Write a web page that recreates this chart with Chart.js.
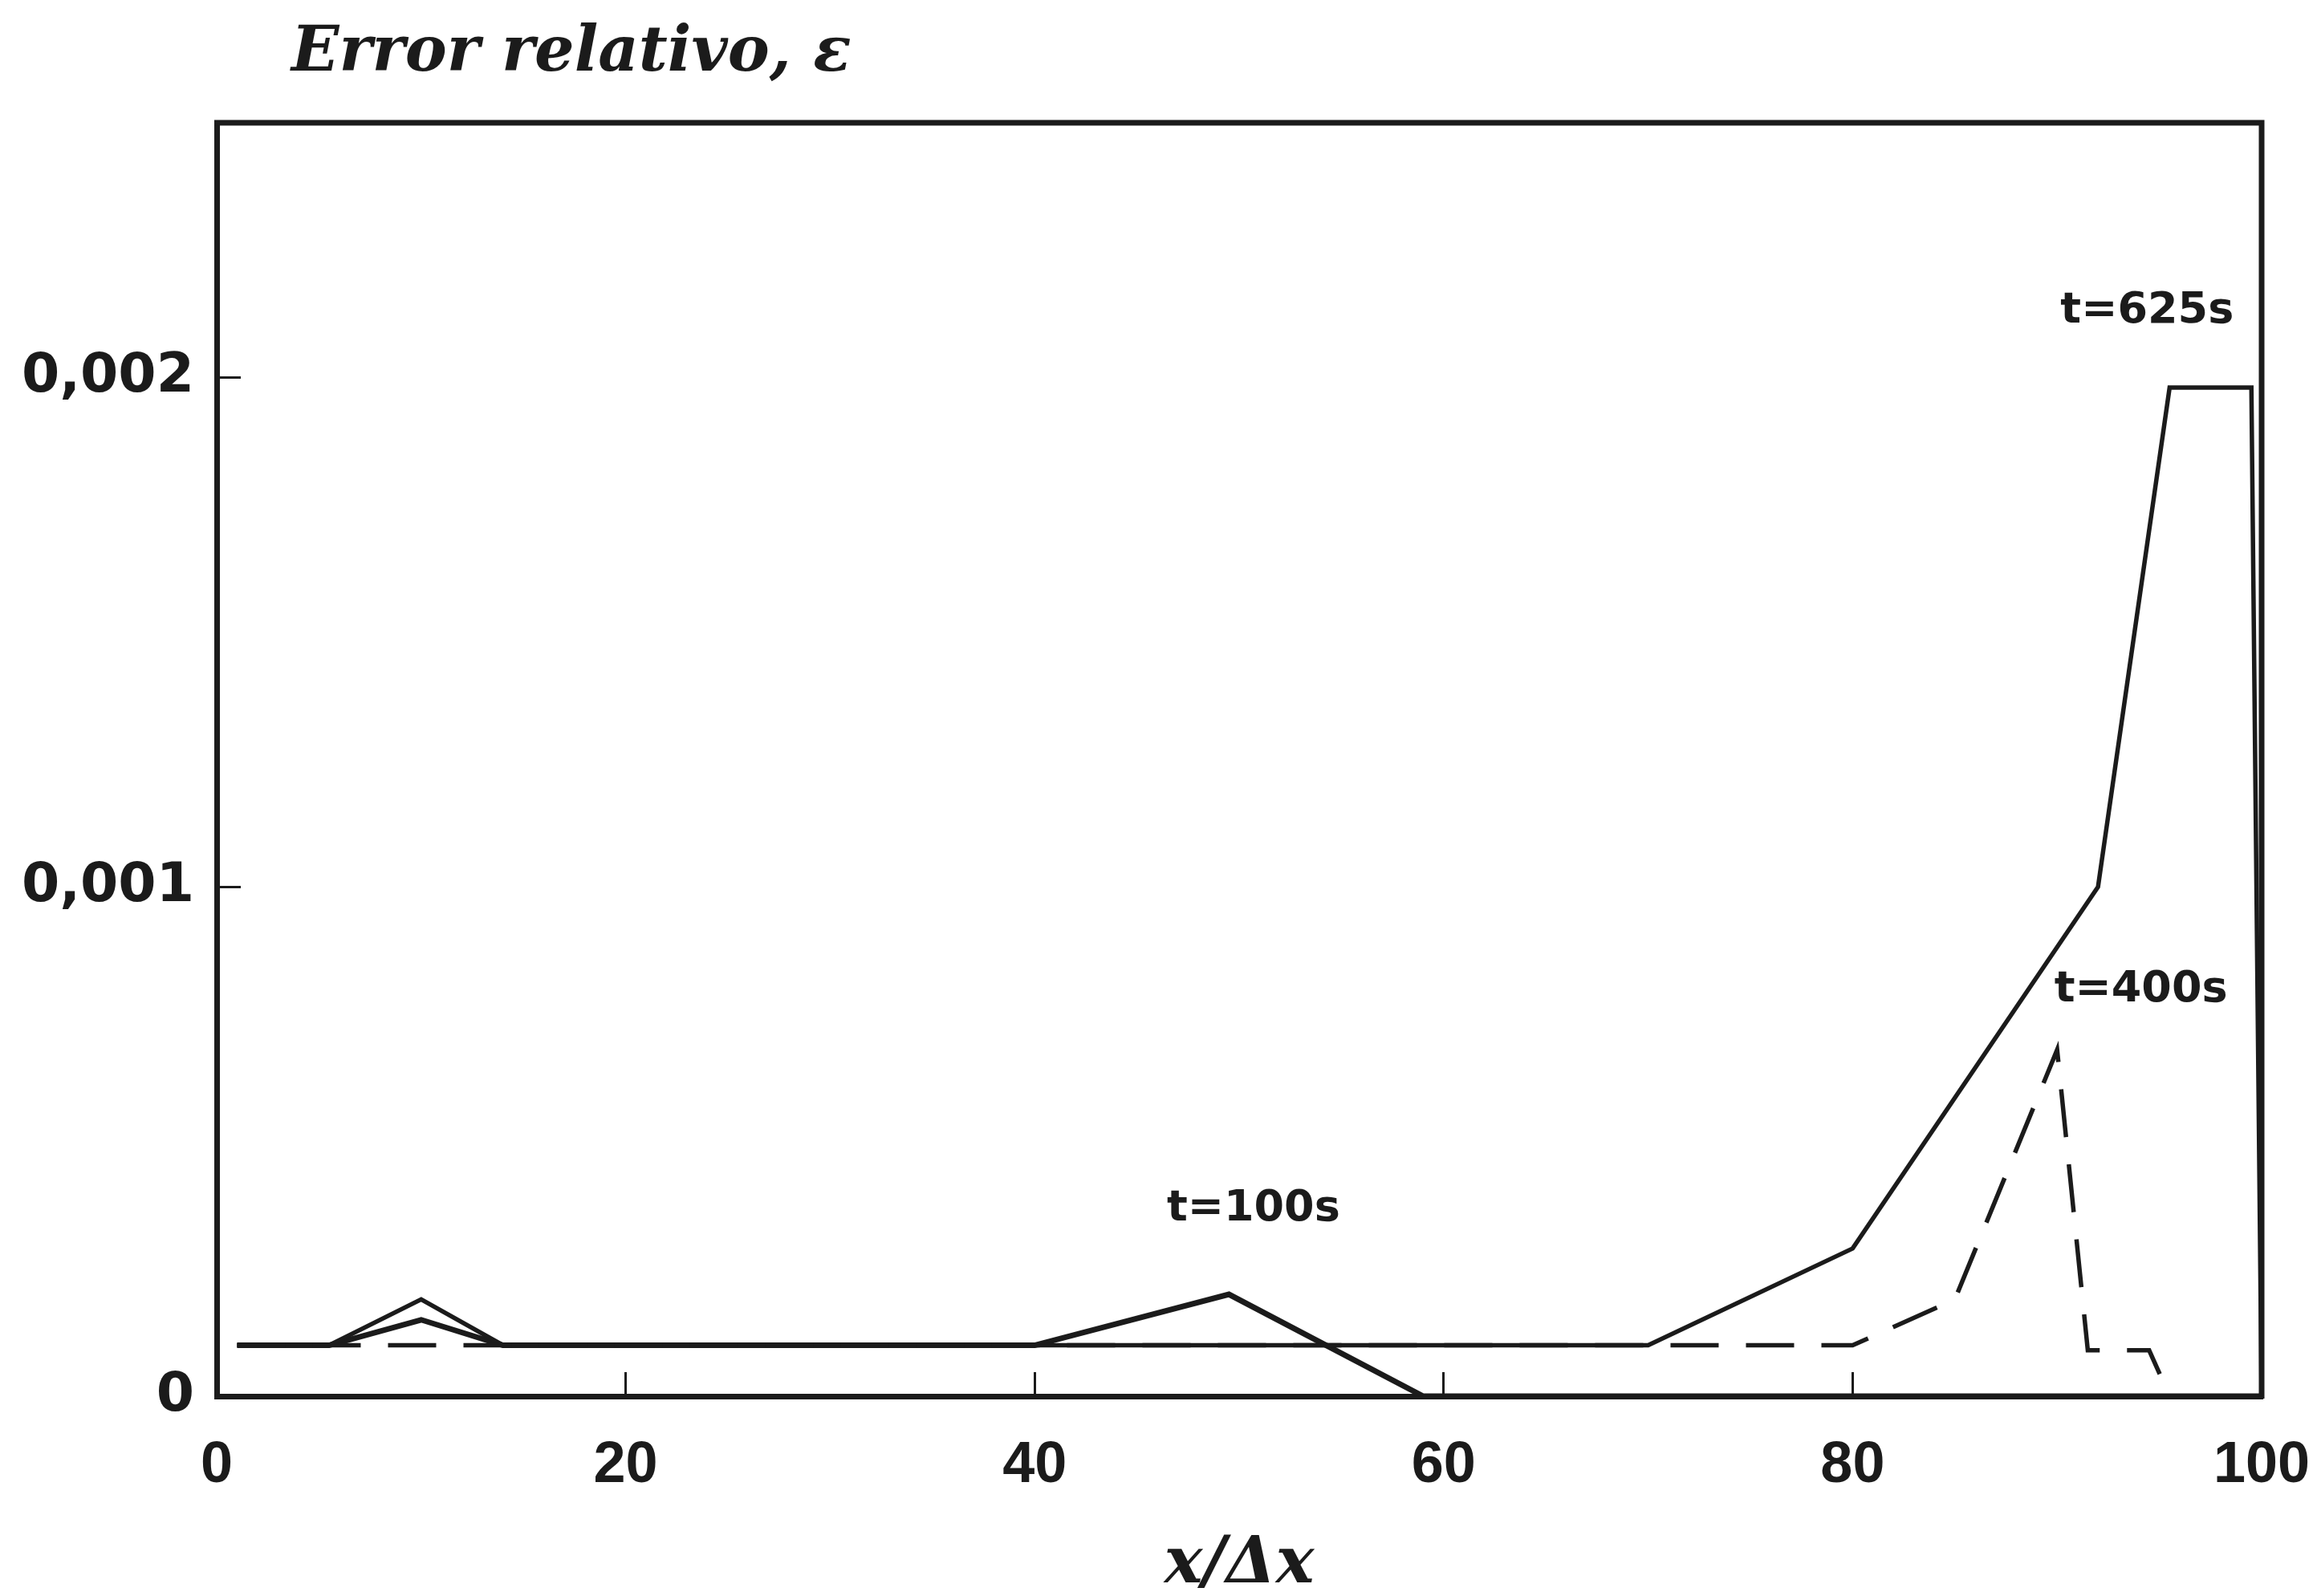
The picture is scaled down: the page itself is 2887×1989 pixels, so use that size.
<!DOCTYPE html>
<html>
<head>
<meta charset="utf-8">
<script src="https://cdn.jsdelivr.net/npm/chart.js@4.4.1/dist/chart.umd.min.js"></script>
<style>
  html, body { margin: 0; padding: 0; background: #fff; }
  #wrap { width: 2887px; height: 1989px; }
</style>
</head>
<body>
<div id="wrap"><canvas id="errChart"></canvas></div>
<script>
// axis ticks
const xTickValues = [0, 20, 40, 60, 80, 100];
const xTickLabels = ['0', '20', '40', '60', '80', '100'];
const yTickValues = [0, 0.001, 0.002];
const yTickLabels = ['0', '0,001', '0,002'];

// t = 100 s
const x100 = [1, 5.5, 10, 14, 40, 49.5, 59, 100];
const e100 = [0.0001, 0.0001, 0.00015, 0.0001, 0.0001, 0.0002, 0, 0];
// t = 400 s (dashed)
const x400 = [1, 80, 85, 90, 91.5, 94.5, 95.5];
const e400 = [0.0001, 0.0001, 0.00019, 0.00068, 0.00009, 0.00009, 0];
// t = 625 s
const x625 = [1, 5.5, 10, 14, 70, 80, 92, 95.5, 99.5, 100];
const e625 = [0.0001, 0.0001, 0.00019, 0.0001, 0.0001, 0.00029, 0.001, 0.00198, 0.00198, 0];

// curve labels, anchored in data units
const curveNames = ['t=100s', 't=400s', 't=625s'];
const curveLabelX = [50.7, 94.1, 94.4];
const curveLabelY = [0.000367, 0.000797, 0.00213];

const yTitle = 'Error relativo, ε';
const xTitle = 'x/Δx';

const ink = '#1b1b1b';
const pts = (xs, ys) => xs.map((x, i) => ({ x: x, y: ys[i] }));

// top and right sides of the frame
const framePlugin = {
    id: 'frame',
    afterDraw(chart) {
        const { ctx, chartArea: a } = chart;
        ctx.save();
        ctx.strokeStyle = ink;
        ctx.lineWidth = 7;
        ctx.beginPath();
        ctx.moveTo(a.left - 3, a.top);
        ctx.lineTo(a.right, a.top);
        ctx.lineTo(a.right, a.bottom + 3);
        ctx.stroke();
        ctx.restore();
    }
};

// y title top-left and the t= labels
const textPlugin = {
    id: 'texts',
    afterDraw(chart) {
        const { ctx, chartArea: a, scales } = chart;
        ctx.save();
        ctx.fillStyle = ink;
        ctx.font = 'italic bold 78px "DejaVu Serif"';
        ctx.textAlign = 'left';
        ctx.textBaseline = 'alphabetic';
        ctx.fillText(yTitle, a.left + 93, 88);
        ctx.font = 'bold 54px "DejaVu Sans"';
        ctx.textAlign = 'center';
        ctx.textBaseline = 'middle';
        curveNames.forEach((t, i) => {
            ctx.fillText(t, scales.x.getPixelForValue(curveLabelX[i]), scales.y.getPixelForValue(curveLabelY[i]));
        });
        ctx.restore();
    }
};

new Chart(document.getElementById('errChart'), {
    type: 'line',
    data: {
        datasets: [{
            label: 't=400s',
            data: pts(x400, e400),
            borderColor: ink,
            borderWidth: 5.5,
            borderDash: [60, 34]
        }, {
            label: 't=625s',
            data: pts(x625, e625),
            borderColor: ink,
            borderWidth: 5.5
        }, {
            label: 't=100s',
            data: pts(x100, e100),
            borderColor: ink,
            borderWidth: 7
        }]
    },
    options: {
        responsive: true,
        maintainAspectRatio: false,
        animation: false,
        layout: { padding: { top: 153, right: 69, left: 0, bottom: 0 } },
        elements: {
            point: { radius: 0 },
            line: { tension: 0, fill: false, borderJoinStyle: 'miter' }
        },
        plugins: {
            legend: { display: false },
            tooltip: { enabled: false }
        },
        scales: {
            x: {
                type: 'linear',
                min: 0,
                max: 100,
                afterBuildTicks: s => { s.ticks = xTickValues.map(v => ({ value: v })); },
                afterFit: s => { s.height = 249; s.paddingLeft = 0; s.paddingRight = 0; },
                grid: {
                    display: true,
                    drawOnChartArea: false,
                    drawTicks: true,
                    tickLength: -30,
                    tickWidth: 3,
                    tickColor: ink
                },
                border: { display: true, color: ink, width: 7 },
                ticks: {
                    autoSkip: false,
                    maxRotation: 0,
                    padding: 81,
                    color: ink,
                    font: { family: 'Liberation Sans', weight: 'bold', size: 72, lineHeight: 1 },
                    callback: (v, i) => xTickLabels[i]
                },
                title: {
                    display: true,
                    text: xTitle,
                    color: ink,
                    padding: { top: 0, bottom: 0 },
                    font: { family: 'DejaVu Serif', style: 'italic', weight: 'bold', size: 80, lineHeight: 0.95 }
                }
            },
            y: {
                type: 'linear',
                min: 0,
                max: 0.0025,
                afterBuildTicks: s => { s.ticks = yTickValues.map(v => ({ value: v })); },
                afterFit: s => { s.width = 270; s.paddingTop = 0; s.paddingBottom = 0; },
                grid: {
                    display: true,
                    drawOnChartArea: false,
                    drawTicks: true,
                    tickLength: -30,
                    tickWidth: 3,
                    tickColor: ink
                },
                border: { display: true, color: ink, width: 7 },
                ticks: {
                    padding: 58,
                    color: ink,
                    font: { family: 'DejaVu Sans', weight: 'bold', size: 68, lineHeight: 1 },
                    callback: (v, i) => yTickLabels[i]
                }
            }
        }
    },
    plugins: [framePlugin, textPlugin]
});
</script>
</body>
</html>
